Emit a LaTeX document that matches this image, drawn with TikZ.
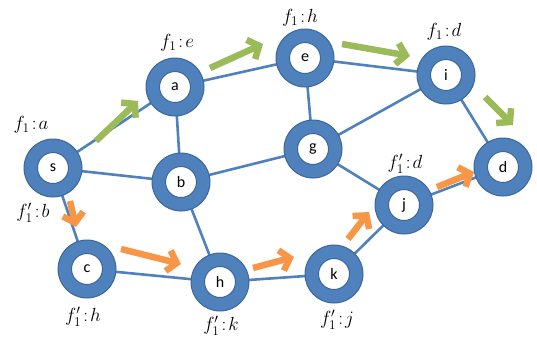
\documentclass[tikz,border=0pt]{standalone}
\usepackage{fontspec}
\setsansfont{Carlito}
\usepackage{fix-cm}
\usetikzlibrary{arrows.meta}
\definecolor{ringblue}{HTML}{4F81BD}
\definecolor{ringedge}{HTML}{3A679B}
\definecolor{flowgreen}{HTML}{9BBB59}
\definecolor{floworange}{HTML}{F79646}
\tikzset{
  vertex/.style={circle, draw=ringedge, line width=1pt, fill=ringblue,
    minimum size=58pt, inner sep=0pt, font=\sffamily\fontsize{16}{16}\selectfont,
    path picture={\fill[white, draw=ringedge, line width=1pt]
      (path picture bounding box.center) circle (15.5pt);}},
  link/.style={ringblue, line width=2.6pt},
  flow/.style={line width=6.5pt, -{Straight Barb[length=9pt, width=21pt, sharp]}},
  gflow/.style={flow, flowgreen},
  oflow/.style={flow, floworange},
  tag/.style={font=\fontsize{19}{19}\selectfont, inner sep=0pt}
}
\begin{document}
\begin{tikzpicture}[x=1pt, y=-1pt]
\useasboundingbox (0,0) rectangle (537,341);
% vertex centres
\coordinate (ps) at (53,168);
\coordinate (pa) at (175,87);
\coordinate (pe) at (305,58);
\coordinate (pi) at (446,75);
\coordinate (pg) at (313,149);
\coordinate (pb) at (181,182);
\coordinate (pd) at (503,167);
\coordinate (pj) at (404,205);
\coordinate (pc) at (87,269);
\coordinate (ph) at (220,282);
\coordinate (pk) at (334,274);
% edges underneath the vertices
\foreach \u/\v in {s/a, s/b, s/c, a/e, a/b, e/i, e/g, i/g, i/d, b/g, b/h, c/h, h/k, k/j, g/j, j/d}
  \draw[link] (p\u) -- (p\v);
% vertices
\node[vertex] (s) at (ps) {s};
\node[vertex] (a) at (pa) {a};
\node[vertex] (e) at (pe) {e};
\node[vertex] (i) at (pi) {i};
\node[vertex] (g) at (pg) {g};
\node[vertex] (b) at (pb) {b};
\node[vertex] (d) at (pd) {d};
\node[vertex] (j) at (pj) {j};
\node[vertex] (c) at (pc) {c};
\node[vertex] (h) at (ph) {h};
\node[vertex] (k) at (pk) {k};
% flow arrow ends
\coordinate (g1s) at (96,141);  \coordinate (g1t) at (138,101);
\coordinate (g2s) at (210,68);  \coordinate (g2t) at (263,44);
\coordinate (g3s) at (342,44);  \coordinate (g3t) at (410,56);
\coordinate (g4s) at (485,97);  \coordinate (g4t) at (513,125);
\coordinate (o1s) at (70,201);  \coordinate (o1t) at (76,227);
\coordinate (o2s) at (121,249); \coordinate (o2t) at (181,264);
\coordinate (o3s) at (253,268); \coordinate (o3t) at (294,257);
\coordinate (o4s) at (348,239); \coordinate (o4t) at (369,212);
\coordinate (o5s) at (437,187); \coordinate (o5t) at (474,172);
% first flow
\foreach \n in {1,2,3,4}
  \draw[gflow] (g\n s) -- (g\n t);
% second flow
\foreach \n in {1,2,3,4,5}
  \draw[oflow] (o\n s) -- (o\n t);
% forwarding labels
\node[tag] (ls) at (31,125)  {$f_1\!:\!a$};
\node[tag] (la) at (177,43)  {$f_1\!:\!e$};
\node[tag] (le) at (300,18)  {$f_1\!:\!h$};
\node[tag] (li) at (444,32)  {$f_1\!:\!d$};
\node[tag] (lsb) at (33,213) {$f_1'\!:\!b$};
\node[tag] (lj) at (405,164) {$f_1'\!:\!d$};
\node[tag] (lc) at (83,317)  {$f_1'\!:\!h$};
\node[tag] (lh) at (221,326) {$f_1'\!:\!k$};
\node[tag] (lk) at (337,320) {$f_1'\!:\!j$};
\end{tikzpicture}
\end{document}
